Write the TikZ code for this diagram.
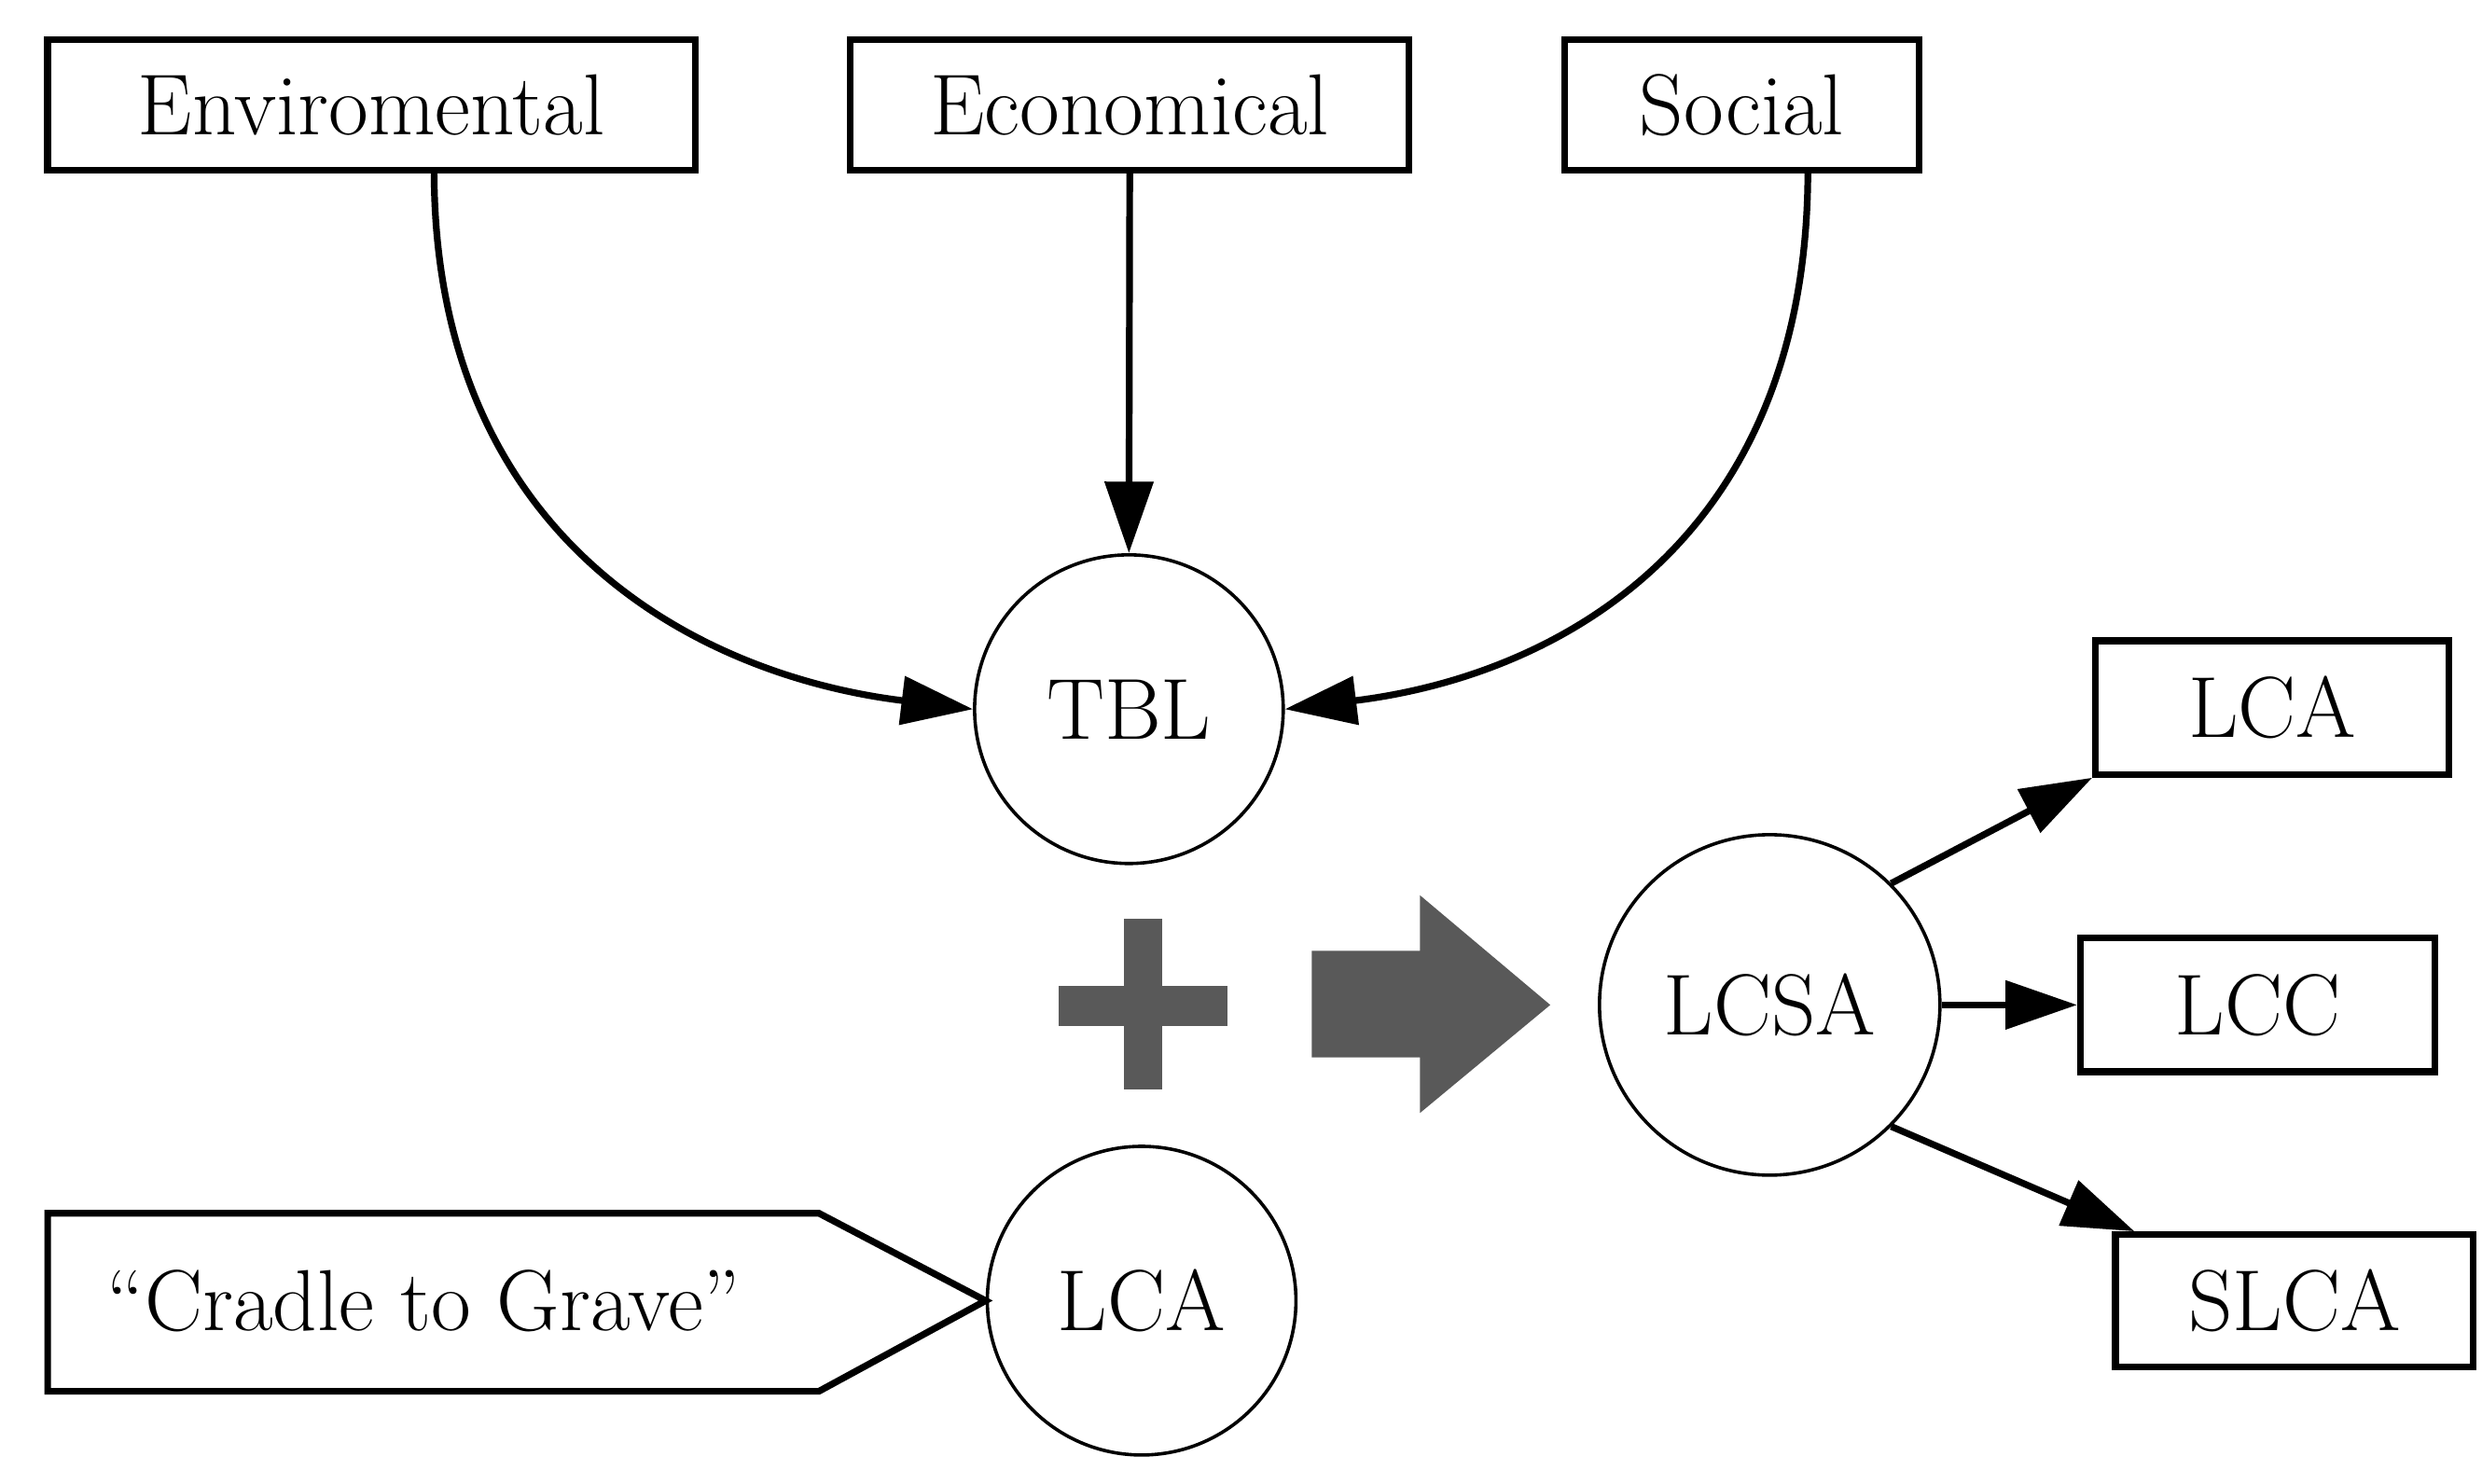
\documentclass[tikz,border=0pt]{standalone}
\usetikzlibrary{arrows.meta}
\begin{document}
\begin{tikzpicture}[x=0.01cm,y=-0.01cm,
  font=\fontsize{15.5}{18}\selectfont,
  box/.style={draw,line width=1.2pt,minimum height=0.82cm,inner sep=0pt},
  circ/.style={draw,circle,line width=0.6pt,inner sep=0pt},
  con/.style={line width=1.2pt,-{Triangle[length=0.45cm,width=0.3cm]}},
  big/.style={fill=black!65,draw=none}]
\useasboundingbox (0,0) rectangle (1561,933);
\node[box,minimum width=4.07cm] (env) at (233.5,66) {Enviromental};
\node[box,minimum width=3.51cm] (eco) at (710.5,66) {Economical};
\node[box,minimum width=2.23cm] (soc) at (1095.5,66) {Social};
\node[circ,minimum size=1.94cm] (tbl) at (710,446) {TBL};
\node[circ,minimum size=1.94cm] (lca) at (718,818) {LCA};
\node[circ,minimum size=2.14cm] (lcsa) at (1113,632) {LCSA};
\node[box,minimum width=2.22cm,minimum height=0.84cm] (lcab) at (1429,445) {LCA};
\node[box,minimum width=2.23cm,minimum height=0.84cm] (lcc) at (1420,632) {LCC};
\node[box,minimum width=2.25cm,minimum height=0.83cm] (slca) at (1443,818) {SLCA};
\coordinate (e1) at (273,107);
\coordinate (s1) at (1137,107);
\draw[con] (e1) .. controls (273,340) and (440,425) .. (tbl.west);
\draw[con] (s1) .. controls (1137,340) and (980,425) .. (tbl.east);
\draw[con] (eco.south) -- (tbl.north);
\draw[con] (lcsa.north east) -- (lcab.south west);
\draw[con] (lcsa.east) -- (lcc.west);
\draw[con] (lcsa.south east) -- ([xshift=0.14cm]slca.north west);
\draw[line width=1.2pt] (30,763) -- (515,763) -- (lca.west) -- (515,875) -- (30,875) -- cycle;
\node[anchor=west] (cg) at (55,818) {``Cradle to Grave''};
\fill[big] (707,578) rectangle (731,685);
\fill[big] (666,620) rectangle (772,645);
\fill[big] (825,598) -- (893,598) -- (893,563) -- (975,632) -- (893,700) -- (893,665) -- (825,665) -- cycle;
\end{tikzpicture}
\end{document}
